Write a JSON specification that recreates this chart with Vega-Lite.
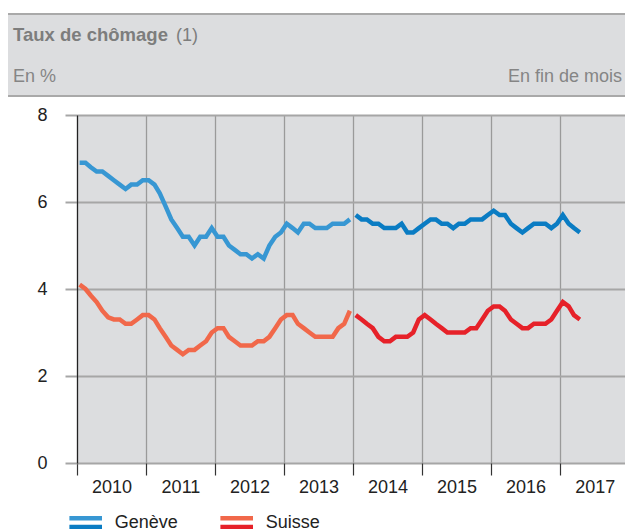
{
  "$schema": "https://vega.github.io/schema/vega-lite/v6.json",
  "width": 548,
  "height": 348,
  "autosize": {"type": "none"},
  "padding": {"left": 77, "top": 115, "right": 0, "bottom": 66},
  "background": "white",
  "config": {
    "font": "Liberation Sans",
    "view": {"fill": "#dcdddf", "stroke": null}
  },
  "datasets": {
    "taux": [
      {"d":"2010-01-15","p":"Genève","s":1,"v":6.9},{"d":"2010-02-15","p":"Genève","s":1,"v":6.9},{"d":"2010-03-15","p":"Genève","s":1,"v":6.8},{"d":"2010-04-15","p":"Genève","s":1,"v":6.7},{"d":"2010-05-15","p":"Genève","s":1,"v":6.7},{"d":"2010-06-15","p":"Genève","s":1,"v":6.6},{"d":"2010-07-15","p":"Genève","s":1,"v":6.5},{"d":"2010-08-15","p":"Genève","s":1,"v":6.4},{"d":"2010-09-15","p":"Genève","s":1,"v":6.3},{"d":"2010-10-15","p":"Genève","s":1,"v":6.4},{"d":"2010-11-15","p":"Genève","s":1,"v":6.4},{"d":"2010-12-15","p":"Genève","s":1,"v":6.5},
      {"d":"2011-01-15","p":"Genève","s":1,"v":6.5},{"d":"2011-02-15","p":"Genève","s":1,"v":6.4},{"d":"2011-03-15","p":"Genève","s":1,"v":6.2},{"d":"2011-04-15","p":"Genève","s":1,"v":5.9},{"d":"2011-05-15","p":"Genève","s":1,"v":5.6},{"d":"2011-06-15","p":"Genève","s":1,"v":5.4},{"d":"2011-07-15","p":"Genève","s":1,"v":5.2},{"d":"2011-08-15","p":"Genève","s":1,"v":5.2},{"d":"2011-09-15","p":"Genève","s":1,"v":5.0},{"d":"2011-10-15","p":"Genève","s":1,"v":5.2},{"d":"2011-11-15","p":"Genève","s":1,"v":5.2},{"d":"2011-12-15","p":"Genève","s":1,"v":5.4},
      {"d":"2012-01-15","p":"Genève","s":1,"v":5.2},{"d":"2012-02-15","p":"Genève","s":1,"v":5.2},{"d":"2012-03-15","p":"Genève","s":1,"v":5.0},{"d":"2012-04-15","p":"Genève","s":1,"v":4.9},{"d":"2012-05-15","p":"Genève","s":1,"v":4.8},{"d":"2012-06-15","p":"Genève","s":1,"v":4.8},{"d":"2012-07-15","p":"Genève","s":1,"v":4.7},{"d":"2012-08-15","p":"Genève","s":1,"v":4.8},{"d":"2012-09-15","p":"Genève","s":1,"v":4.7},{"d":"2012-10-15","p":"Genève","s":1,"v":5.0},{"d":"2012-11-15","p":"Genève","s":1,"v":5.2},{"d":"2012-12-15","p":"Genève","s":1,"v":5.3},
      {"d":"2013-01-15","p":"Genève","s":1,"v":5.5},{"d":"2013-02-15","p":"Genève","s":1,"v":5.4},{"d":"2013-03-15","p":"Genève","s":1,"v":5.3},{"d":"2013-04-15","p":"Genève","s":1,"v":5.5},{"d":"2013-05-15","p":"Genève","s":1,"v":5.5},{"d":"2013-06-15","p":"Genève","s":1,"v":5.4},{"d":"2013-07-15","p":"Genève","s":1,"v":5.4},{"d":"2013-08-15","p":"Genève","s":1,"v":5.4},{"d":"2013-09-15","p":"Genève","s":1,"v":5.5},{"d":"2013-10-15","p":"Genève","s":1,"v":5.5},{"d":"2013-11-15","p":"Genève","s":1,"v":5.5},{"d":"2013-12-15","p":"Genève","s":1,"v":5.6},
      {"d":"2014-01-15","p":"Genève","s":2,"v":5.7},{"d":"2014-02-15","p":"Genève","s":2,"v":5.6},{"d":"2014-03-15","p":"Genève","s":2,"v":5.6},{"d":"2014-04-15","p":"Genève","s":2,"v":5.5},{"d":"2014-05-15","p":"Genève","s":2,"v":5.5},{"d":"2014-06-15","p":"Genève","s":2,"v":5.4},{"d":"2014-07-15","p":"Genève","s":2,"v":5.4},{"d":"2014-08-15","p":"Genève","s":2,"v":5.4},{"d":"2014-09-15","p":"Genève","s":2,"v":5.5},{"d":"2014-10-15","p":"Genève","s":2,"v":5.3},{"d":"2014-11-15","p":"Genève","s":2,"v":5.3},{"d":"2014-12-15","p":"Genève","s":2,"v":5.4},
      {"d":"2015-01-15","p":"Genève","s":2,"v":5.5},{"d":"2015-02-15","p":"Genève","s":2,"v":5.6},{"d":"2015-03-15","p":"Genève","s":2,"v":5.6},{"d":"2015-04-15","p":"Genève","s":2,"v":5.5},{"d":"2015-05-15","p":"Genève","s":2,"v":5.5},{"d":"2015-06-15","p":"Genève","s":2,"v":5.4},{"d":"2015-07-15","p":"Genève","s":2,"v":5.5},{"d":"2015-08-15","p":"Genève","s":2,"v":5.5},{"d":"2015-09-15","p":"Genève","s":2,"v":5.6},{"d":"2015-10-15","p":"Genève","s":2,"v":5.6},{"d":"2015-11-15","p":"Genève","s":2,"v":5.6},{"d":"2015-12-15","p":"Genève","s":2,"v":5.7},
      {"d":"2016-01-15","p":"Genève","s":2,"v":5.8},{"d":"2016-02-15","p":"Genève","s":2,"v":5.7},{"d":"2016-03-15","p":"Genève","s":2,"v":5.7},{"d":"2016-04-15","p":"Genève","s":2,"v":5.5},{"d":"2016-05-15","p":"Genève","s":2,"v":5.4},{"d":"2016-06-15","p":"Genève","s":2,"v":5.3},{"d":"2016-07-15","p":"Genève","s":2,"v":5.4},{"d":"2016-08-15","p":"Genève","s":2,"v":5.5},{"d":"2016-09-15","p":"Genève","s":2,"v":5.5},{"d":"2016-10-15","p":"Genève","s":2,"v":5.5},{"d":"2016-11-15","p":"Genève","s":2,"v":5.4},{"d":"2016-12-15","p":"Genève","s":2,"v":5.5},
      {"d":"2017-01-15","p":"Genève","s":2,"v":5.7},{"d":"2017-02-15","p":"Genève","s":2,"v":5.5},{"d":"2017-03-15","p":"Genève","s":2,"v":5.4},{"d":"2017-04-15","p":"Genève","s":2,"v":5.3},
      {"d":"2010-01-15","p":"Suisse","s":1,"v":4.1},{"d":"2010-02-15","p":"Suisse","s":1,"v":4.0},{"d":"2010-03-15","p":"Suisse","s":1,"v":3.85},{"d":"2010-04-15","p":"Suisse","s":1,"v":3.7},{"d":"2010-05-15","p":"Suisse","s":1,"v":3.5},{"d":"2010-06-15","p":"Suisse","s":1,"v":3.35},{"d":"2010-07-15","p":"Suisse","s":1,"v":3.3},{"d":"2010-08-15","p":"Suisse","s":1,"v":3.3},{"d":"2010-09-15","p":"Suisse","s":1,"v":3.2},{"d":"2010-10-15","p":"Suisse","s":1,"v":3.2},{"d":"2010-11-15","p":"Suisse","s":1,"v":3.3},{"d":"2010-12-15","p":"Suisse","s":1,"v":3.4},
      {"d":"2011-01-15","p":"Suisse","s":1,"v":3.4},{"d":"2011-02-15","p":"Suisse","s":1,"v":3.3},{"d":"2011-03-15","p":"Suisse","s":1,"v":3.1},{"d":"2011-04-15","p":"Suisse","s":1,"v":2.9},{"d":"2011-05-15","p":"Suisse","s":1,"v":2.7},{"d":"2011-06-15","p":"Suisse","s":1,"v":2.6},{"d":"2011-07-15","p":"Suisse","s":1,"v":2.5},{"d":"2011-08-15","p":"Suisse","s":1,"v":2.6},{"d":"2011-09-15","p":"Suisse","s":1,"v":2.6},{"d":"2011-10-15","p":"Suisse","s":1,"v":2.7},{"d":"2011-11-15","p":"Suisse","s":1,"v":2.8},{"d":"2011-12-15","p":"Suisse","s":1,"v":3.0},
      {"d":"2012-01-15","p":"Suisse","s":1,"v":3.1},{"d":"2012-02-15","p":"Suisse","s":1,"v":3.1},{"d":"2012-03-15","p":"Suisse","s":1,"v":2.9},{"d":"2012-04-15","p":"Suisse","s":1,"v":2.8},{"d":"2012-05-15","p":"Suisse","s":1,"v":2.7},{"d":"2012-06-15","p":"Suisse","s":1,"v":2.7},{"d":"2012-07-15","p":"Suisse","s":1,"v":2.7},{"d":"2012-08-15","p":"Suisse","s":1,"v":2.8},{"d":"2012-09-15","p":"Suisse","s":1,"v":2.8},{"d":"2012-10-15","p":"Suisse","s":1,"v":2.9},{"d":"2012-11-15","p":"Suisse","s":1,"v":3.1},{"d":"2012-12-15","p":"Suisse","s":1,"v":3.3},
      {"d":"2013-01-15","p":"Suisse","s":1,"v":3.4},{"d":"2013-02-15","p":"Suisse","s":1,"v":3.4},{"d":"2013-03-15","p":"Suisse","s":1,"v":3.2},{"d":"2013-04-15","p":"Suisse","s":1,"v":3.1},{"d":"2013-05-15","p":"Suisse","s":1,"v":3.0},{"d":"2013-06-15","p":"Suisse","s":1,"v":2.9},{"d":"2013-07-15","p":"Suisse","s":1,"v":2.9},{"d":"2013-08-15","p":"Suisse","s":1,"v":2.9},{"d":"2013-09-15","p":"Suisse","s":1,"v":2.9},{"d":"2013-10-15","p":"Suisse","s":1,"v":3.1},{"d":"2013-11-15","p":"Suisse","s":1,"v":3.2},{"d":"2013-12-15","p":"Suisse","s":1,"v":3.5},
      {"d":"2014-01-15","p":"Suisse","s":2,"v":3.4},{"d":"2014-02-15","p":"Suisse","s":2,"v":3.3},{"d":"2014-03-15","p":"Suisse","s":2,"v":3.2},{"d":"2014-04-15","p":"Suisse","s":2,"v":3.1},{"d":"2014-05-15","p":"Suisse","s":2,"v":2.9},{"d":"2014-06-15","p":"Suisse","s":2,"v":2.8},{"d":"2014-07-15","p":"Suisse","s":2,"v":2.8},{"d":"2014-08-15","p":"Suisse","s":2,"v":2.9},{"d":"2014-09-15","p":"Suisse","s":2,"v":2.9},{"d":"2014-10-15","p":"Suisse","s":2,"v":2.9},{"d":"2014-11-15","p":"Suisse","s":2,"v":3.0},{"d":"2014-12-15","p":"Suisse","s":2,"v":3.3},
      {"d":"2015-01-15","p":"Suisse","s":2,"v":3.4},{"d":"2015-02-15","p":"Suisse","s":2,"v":3.3},{"d":"2015-03-15","p":"Suisse","s":2,"v":3.2},{"d":"2015-04-15","p":"Suisse","s":2,"v":3.1},{"d":"2015-05-15","p":"Suisse","s":2,"v":3.0},{"d":"2015-06-15","p":"Suisse","s":2,"v":3.0},{"d":"2015-07-15","p":"Suisse","s":2,"v":3.0},{"d":"2015-08-15","p":"Suisse","s":2,"v":3.0},{"d":"2015-09-15","p":"Suisse","s":2,"v":3.1},{"d":"2015-10-15","p":"Suisse","s":2,"v":3.1},{"d":"2015-11-15","p":"Suisse","s":2,"v":3.3},{"d":"2015-12-15","p":"Suisse","s":2,"v":3.5},
      {"d":"2016-01-15","p":"Suisse","s":2,"v":3.6},{"d":"2016-02-15","p":"Suisse","s":2,"v":3.6},{"d":"2016-03-15","p":"Suisse","s":2,"v":3.5},{"d":"2016-04-15","p":"Suisse","s":2,"v":3.3},{"d":"2016-05-15","p":"Suisse","s":2,"v":3.2},{"d":"2016-06-15","p":"Suisse","s":2,"v":3.1},{"d":"2016-07-15","p":"Suisse","s":2,"v":3.1},{"d":"2016-08-15","p":"Suisse","s":2,"v":3.2},{"d":"2016-09-15","p":"Suisse","s":2,"v":3.2},{"d":"2016-10-15","p":"Suisse","s":2,"v":3.2},{"d":"2016-11-15","p":"Suisse","s":2,"v":3.3},{"d":"2016-12-15","p":"Suisse","s":2,"v":3.5},
      {"d":"2017-01-15","p":"Suisse","s":2,"v":3.7},{"d":"2017-02-15","p":"Suisse","s":2,"v":3.6},{"d":"2017-03-15","p":"Suisse","s":2,"v":3.4},{"d":"2017-04-15","p":"Suisse","s":2,"v":3.3}
    ]
  },
  "layer": [
    {
      "data": {"values": [{"t": "bandeau"}]},
      "mark": {"type": "rect", "fill": "#dcdddf"},
      "encoding": {
        "x": {"datum": {"year": 2009, "month": 1, "date": 1, "utc": true}, "type": "temporal"},
        "x2": {"datum": {"year": 2019, "month": 1, "date": 1, "utc": true}},
        "y": {"datum": 10.322, "type": "quantitative"},
        "y2": {"datum": 8.437}
      }
    },
    {
      "data": {"values": [{"b": 10.322}, {"b": 8.437}]},
      "mark": {"type": "rule", "stroke": "#a9a9a9", "strokeWidth": 2},
      "encoding": {
        "x": {"datum": {"year": 2009, "month": 1, "date": 1, "utc": true}, "type": "temporal"},
        "x2": {"datum": {"year": 2019, "month": 1, "date": 1, "utc": true}},
        "y": {"field": "b", "type": "quantitative"}
      }
    },
    {
      "data": {"values": [{"t": "Taux de chômage"}]},
      "mark": {"type": "text", "align": "left", "baseline": "alphabetic", "dx": 5, "fontSize": 18.5, "fontWeight": "bold", "color": "#7d7d7d", "font": "Liberation Sans"},
      "encoding": {
        "x": {"datum": {"year": 2009, "month": 1, "date": 1, "utc": true}, "type": "temporal"},
        "y": {"datum": 9.701, "type": "quantitative"},
        "text": {"field": "t"}
      }
    },
    {
      "data": {"values": [{"t": "(1)"}]},
      "mark": {"type": "text", "align": "left", "baseline": "alphabetic", "dx": 168, "fontSize": 18, "color": "#7d7d7d", "font": "Liberation Sans"},
      "encoding": {
        "x": {"datum": {"year": 2009, "month": 1, "date": 1, "utc": true}, "type": "temporal"},
        "y": {"datum": 9.701, "type": "quantitative"},
        "text": {"field": "t"}
      }
    },
    {
      "data": {"values": [{"t": "En %"}]},
      "mark": {"type": "text", "align": "left", "baseline": "alphabetic", "dx": 5, "fontSize": 18, "color": "#858585", "font": "Liberation Sans"},
      "encoding": {
        "x": {"datum": {"year": 2009, "month": 1, "date": 1, "utc": true}, "type": "temporal"},
        "y": {"datum": 8.759, "type": "quantitative"},
        "text": {"field": "t"}
      }
    },
    {
      "data": {"values": [{"t": "En fin de mois"}]},
      "mark": {"type": "text", "align": "right", "baseline": "alphabetic", "dx": -3, "fontSize": 18, "color": "#858585", "font": "Liberation Sans"},
      "encoding": {
        "x": {"datum": {"year": 2017, "month": 12, "date": 10, "utc": true}, "type": "temporal"},
        "y": {"datum": 8.759, "type": "quantitative"},
        "text": {"field": "t"}
      }
    },
    {
      "data": {"name": "taux"},
      "transform": [{"filter": "datum.s == 1"}],
      "mark": {"type": "line", "strokeWidth": 4.5},
      "encoding": {
        "x": {
          "field": "d", "type": "temporal",
          "scale": {"type": "utc", "domain": [{"year": 2010, "month": 1, "date": 1, "utc": true}, {"year": 2017, "month": 12, "date": 10, "utc": true}], "nice": false},
          "axis": {
            "values": [
              {"year": 2010, "month": 1, "date": 1, "utc": true},
              {"year": 2011, "month": 1, "date": 1, "utc": true},
              {"year": 2012, "month": 1, "date": 1, "utc": true},
              {"year": 2013, "month": 1, "date": 1, "utc": true},
              {"year": 2014, "month": 1, "date": 1, "utc": true},
              {"year": 2015, "month": 1, "date": 1, "utc": true},
              {"year": 2016, "month": 1, "date": 1, "utc": true},
              {"year": 2017, "month": 1, "date": 1, "utc": true}
            ],
            "format": "%Y",
            "labelOffset": 34.5,
            "labelPadding": 3,
            "labelFontSize": 18,
            "labelColor": "#222222",
            "labelFont": "Liberation Sans",
            "labelOverlap": false,
            "labelFlush": false,
            "labelBound": false,
            "tickSize": 12,
            "tickColor": "#333333",
            "tickWidth": 1.2,
            "grid": true,
            "gridColor": "#9a9a9a",
            "gridWidth": 1.3,
            "domain": false,
            "title": null
          }
        },
        "y": {
          "field": "v", "type": "quantitative",
          "scale": {"domain": [0, 8], "nice": false},
          "axis": {
            "values": [0, 2, 4, 6, 8],
            "tickSize": 12,
            "tickColor": "#a6a6a6",
            "tickWidth": 2,
            "grid": true,
            "gridColor": "#a6a6a6",
            "gridWidth": 2,
            "domain": true,
            "domainColor": "#222222",
            "domainWidth": 1.2,
            "labelPadding": 18,
            "labelFontSize": 18,
            "labelColor": "#222222",
            "labelFont": "Liberation Sans",
            "title": null
          }
        },
        "stroke": {
          "field": "p", "type": "nominal",
          "scale": {"domain": ["Genève", "Suisse"], "range": ["#3797d3", "#f1684a"]},
          "legend": {
            "orient": "none", "legendX": -10.3, "legendY": 388.5,
            "direction": "horizontal", "title": null, "padding": 0,
            "symbolType": "M-1,-0.26L1,-0.26", "symbolSize": 1063, "symbolStrokeWidth": 4.5,
            "symbolFillColor": "transparent",
            "labelFontSize": 18, "labelColor": "#222222", "labelFont": "Liberation Sans",
            "labelOffset": 10, "columnPadding": 32
          }
        }
      }
    },
    {
      "data": {"name": "taux"},
      "transform": [{"filter": "datum.s == 2"}],
      "mark": {"type": "line", "strokeWidth": 4.5},
      "encoding": {
        "x": {"field": "d", "type": "temporal"},
        "y": {"field": "v", "type": "quantitative"},
        "stroke": {
          "field": "p", "type": "nominal",
          "scale": {"domain": ["Genève", "Suisse"], "range": ["#0a7cc3", "#e62129"]},
          "legend": {
            "orient": "none", "legendX": -10.3, "legendY": 388.5,
            "direction": "horizontal", "title": null, "padding": 0,
            "symbolType": "M-1,0.26L1,0.26", "symbolSize": 1063, "symbolStrokeWidth": 4.5,
            "symbolFillColor": "transparent",
            "labelFontSize": 18, "labelOpacity": 0, "labelFont": "Liberation Sans",
            "labelOffset": 10, "columnPadding": 32
          }
        }
      }
    }
  ],
  "resolve": {"scale": {"stroke": "independent"}, "legend": {"stroke": "independent"}}
}
